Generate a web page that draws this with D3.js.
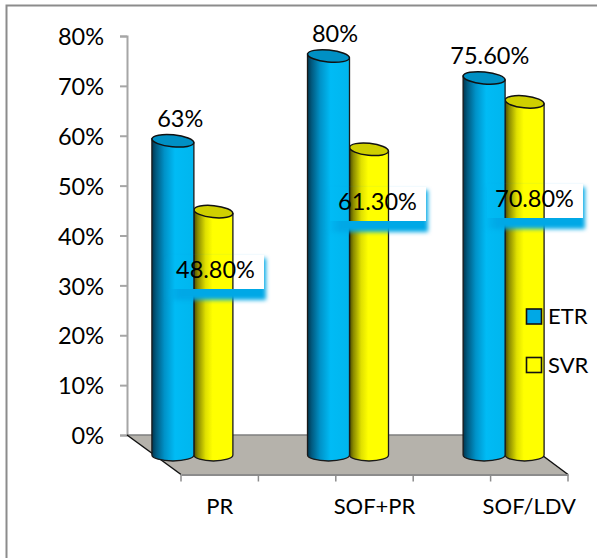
<!DOCTYPE html>
<html>
<head>
<meta charset="utf-8">
<script src="https://cdn.jsdelivr.net/npm/d3@7/dist/d3.min.js"></script>
<style>
html,body{margin:0;padding:0;background:#fff}
svg{display:block}
text{font-family:Lato,"Open Sans",sans-serif;fill:#000}
</style>
</head>
<body>
<svg id="chart" width="597" height="558"></svg>
<script>
const categories = ["PR", "", "SOF+PR", "", "SOF/LDV"];
const etrValues = [63, null, 80, null, 75.6];
const svrValues = [48.8, null, 61.3, null, 70.8];
const etrLabels = ["63%", null, "80%", null, "75.60%"];
const svrLabels = ["48.80%", null, "61.30%", null, "70.80%"];
const yTicks = [0, 10, 20, 30, 40, 50, 60, 70, 80];
const seriesNames = ["ETR", "SVR"];

const svg = d3.select("#chart");
const defs = svg.append("defs");

const y = d3.scaleLinear().domain([0, 80]).range([435, 36]);
const x = d3.scaleBand().domain(categories.map((c, i) => i)).range([181, 568]);
// columns stand mid-depth on the floor, where the band spacing differs a little
const xColumn = d3.scaleBand().domain(x.domain()).range([154.5, 543.5]);

// floor depth: the plot's front edge sits this far from the back wall
const depthX = 53, depthY = 39.5;
const midY = 20;
const labelSize = "23.5px";

function cylinderGradient(id, stops) {
  const g = defs.append("linearGradient").attr("id", id)
    .attr("x1", 0).attr("x2", 1).attr("y1", 0).attr("y2", 0);
  stops.forEach(([o, c]) => g.append("stop").attr("offset", o).attr("stop-color", c));
}
cylinderGradient("etrBody", [[0, "#00364f"], [0.1, "#015a80"], [0.3, "#0092c8"], [0.55, "#00bbf5"], [1, "#00b6ee"]]);
cylinderGradient("svrBody", [[0, "#4a4a00"], [0.1, "#8a8a00"], [0.3, "#e0e000"], [0.48, "#ffff00"], [1, "#ffff00"]]);

const shadowFade = defs.append("linearGradient").attr("id", "shadowFade")
  .attr("x1", 0).attr("x2", 1).attr("y1", 0).attr("y2", 0);
[[0, 0], [0.12, 1], [1, 1]].forEach(([o, a]) =>
  shadowFade.append("stop").attr("offset", o).attr("stop-color", "#00a8e6").attr("stop-opacity", a));

defs.append("filter").attr("id", "soft")
  .attr("x", "-20%").attr("y", "-30%").attr("width", "140%").attr("height", "160%")
  .append("feGaussianBlur").attr("stdDeviation", 1.9);

// outer frame
svg.append("path")
  .attr("d", "M6.5,558V5.5H597")
  .attr("fill", "none").attr("stroke", "#8c8c8c").attr("stroke-width", 2);

// value axis
const yAxis = d3.axisLeft(y).tickValues(yTicks).tickFormat(d => d + "%").tickSize(7).tickPadding(16);
const gy = svg.append("g").attr("transform", "translate(127,0)").call(yAxis);
gy.selectAll("path,line").attr("stroke", "#a6a6a6").attr("stroke-width", 2);
gy.selectAll("text").style("font-size", labelSize).attr("fill", "#000").attr("dy", "0.37em");

// floor
const floorPts = [[127, y(0)], [515, y(0)], [568, y(0) + depthY], [181, y(0) + depthY]];
svg.append("polygon").attr("points", floorPts.join(" ")).attr("fill", "#b5b2ab");
svg.append("line").attr("x1", 127).attr("y1", y(0)).attr("x2", 515).attr("y2", y(0))
  .attr("stroke", "#7f7f7f").attr("stroke-width", 1.5);
svg.append("line").attr("x1", 127).attr("y1", y(0)).attr("x2", 181).attr("y2", y(0) + depthY)
  .attr("stroke", "#111").attr("stroke-width", 1.5);
svg.append("line").attr("x1", 515).attr("y1", y(0)).attr("x2", 568).attr("y2", y(0) + depthY)
  .attr("stroke", "#111").attr("stroke-width", 1.5);

// category axis along the front edge of the floor
const xAxis = d3.axisBottom(x).tickFormat(i => categories[i]).tickSize(0).tickPadding(24);
const gx = svg.append("g").attr("transform", `translate(0,${y(0) + depthY})`).call(xAxis);
gx.select(".domain").attr("stroke", "#8c8c8c").attr("stroke-width", 2);
gx.selectAll("text").style("font-size", "22px").attr("fill", "#000");
const edges = d3.range(categories.length).map(i => x(i)).concat(x.range()[1]);
gx.selectAll(".edge").data(edges).enter().append("line").attr("class", "edge")
  .attr("x1", d => d).attr("x2", d => d).attr("y1", 0).attr("y2", 7)
  .attr("stroke", "#8c8c8c").attr("stroke-width", 1.5);

// one column: shaded body plus a slightly tilted cap
function cylinder(sel, cx, rx, value, body, cap) {
  const ry = 6, tilt = 2;
  const base = y(0) + midY;
  const top = base + (y(value) - y(0));
  const rot = Math.atan2(tilt, rx) * 180 / Math.PI;
  const g = sel.append("g");
  g.append("path")
    .attr("d", `M${cx - rx},${top - tilt}V${base}A${rx},${ry} 0 0 0 ${cx + rx},${base}V${top + tilt}Z`)
    .attr("fill", `url(#${body})`).attr("stroke", "#1a1a1a").attr("stroke-width", 1.3);
  g.append("ellipse").attr("cx", cx).attr("cy", top).attr("rx", rx).attr("ry", ry)
    .attr("transform", `rotate(${rot} ${cx} ${top})`)
    .attr("fill", cap).attr("stroke", "#111").attr("stroke-width", 1.5);
}

const plotted = categories.map((c, i) => i).filter(i => categories[i]);
const bars = svg.append("g");
plotted.forEach(i => {
  const c = xColumn(i) + xColumn.bandwidth() / 2;
  cylinder(bars, c + 20, 19.5, svrValues[i], "svrBody", "#cfcf00");
  cylinder(bars, c - 20.5, 21, etrValues[i], "etrBody", "#0090c4");
});

// labels above the ETR columns
plotted.forEach(i => {
  svg.append("text").attr("x", x(i) + x.bandwidth() / 2 - 39.5)
    .attr("y", y(etrValues[i]) + midY - 22).attr("dy", "0.35em")
    .attr("text-anchor", "middle").style("font-size", labelSize).text(etrLabels[i]);
});

// SVR labels: open box whose blue shadow falls along the bottom and right edges
const boxW = 96, boxH = 34;
const boxCentre = { 0: [216, 272], 2: [378, 204], 4: [535, 201] };
plotted.forEach((i, n) => {
  const [cx, cy] = boxCentre[i];
  const bx = cx - boxW / 2, by = cy - boxH / 2;
  const id = "cut" + n;
  const mask = defs.append("mask").attr("id", id).attr("maskUnits", "userSpaceOnUse")
    .attr("x", bx - 20).attr("y", by - 20).attr("width", boxW + 40).attr("height", boxH + 40);
  mask.append("rect").attr("x", bx - 20).attr("y", by - 20).attr("width", boxW + 40).attr("height", boxH + 40).attr("fill", "#fff");
  mask.append("rect").attr("x", bx).attr("y", by).attr("width", boxW).attr("height", boxH).attr("fill", "#000");
  svg.append("g").attr("mask", `url(#${id})`)
    .append("rect").attr("x", bx - 2).attr("y", by + 3).attr("width", boxW + 4).attr("height", boxH + 8)
    .attr("fill", "url(#shadowFade)").attr("filter", "url(#soft)");
  svg.append("text").attr("x", cx - 0.5).attr("y", cy - 2).attr("dy", "0.35em")
    .attr("text-anchor", "middle").style("font-size", labelSize).text(svrLabels[i]);
});

// legend
const legend = svg.append("g");
seriesNames.forEach((name, i) => {
  const ly = 316.5 + i * 48.5;
  legend.append("rect").attr("x", 526.5).attr("y", ly - 7.5).attr("width", 15).attr("height", 15)
    .attr("fill", i ? "#ffff00" : "#00a8e6").attr("stroke", "#111").attr("stroke-width", 1.6);
  legend.append("text").attr("x", 548).attr("y", ly).attr("dy", "0.35em").style("font-size", "22px").text(name);
});
</script>
</body>
</html>
